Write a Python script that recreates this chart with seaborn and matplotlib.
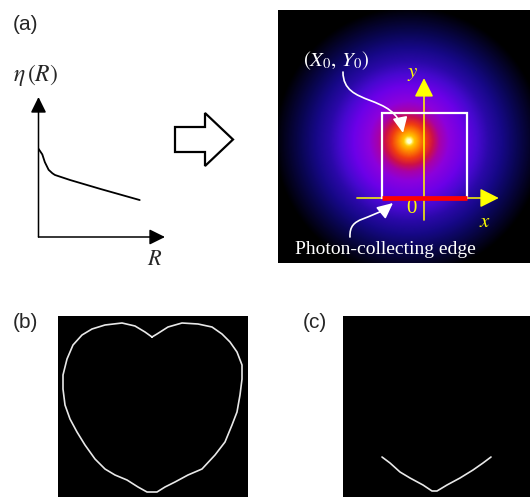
import numpy as np
import matplotlib
matplotlib.use("Agg")
import matplotlib.pyplot as plt
import seaborn as sns
from matplotlib.colors import LinearSegmentedColormap
from matplotlib.patches import FancyArrowPatch, FancyArrow, Rectangle
from matplotlib.path import Path

sns.set_style("white")
plt.rcParams["font.family"] = ["Liberation Sans", "DejaVu Sans"]
plt.rcParams["mathtext.fontset"] = "stix"

# collection efficiency versus distance from the edge (normalised sketch)
R_vals = [0.0, 0.03, 0.05, 0.08, 0.11, 0.13, 0.25, 0.49, 0.80]
eta_vals = [0.63, 0.59, 0.535, 0.48, 0.455, 0.443, 0.407, 0.343, 0.264]

# heart-shaped emitter outline (pixel grid of panel b, y pointing down)
heart_x = [94, 99, 110, 124, 140, 154, 164, 172, 179, 184, 184, 182, 179, 174,
           167, 157, 144, 130, 117, 107, 99, 89, 80, 69, 57, 47, 37, 27, 19,
           12, 7, 5, 5, 9, 15, 24, 34, 47, 64, 77, 87, 94]
heart_y = [21, 18, 11, 7, 8, 11, 18, 26, 36, 49, 63, 79, 96, 109,
           126, 139, 153, 159, 166, 171, 176, 176, 171, 164, 159, 153, 143, 129, 116,
           103, 89, 73, 59, 43, 29, 19, 13, 9, 7, 10, 16, 21]

# portion of the outline seen along the collecting edge (panel c)
edge_x = [39, 47, 57, 67, 80, 89, 94, 104, 117, 130, 140, 148]
edge_y = [141, 147, 156, 162, 169, 175, 175, 169, 162, 154, 147, 141]

# radial colour profile of the luminescence spot (radius in edge lengths)
spot_radius = [0.0, 0.025, 0.06, 0.12, 0.20, 0.28, 0.36, 0.47, 0.65, 0.80,
               0.94, 1.10, 1.27, 1.42, 1.58]
spot_colors = ["#ffffff", "#ffffa0", "#ffc800", "#ff8800", "#f03c10", "#cc1048",
               "#a800a8", "#8c00dc", "#6c00e8", "#4808d0", "#2a08a8", "#160886",
               "#0a0656", "#05032c", "#000000"]
spot_center = (-0.176, 0.671)

W, H = 530, 497
fig = plt.figure(figsize=(W / 100, H / 100), dpi=100)


def px_axes(x, y, w, h, **kw):
    return fig.add_axes([x / W, 1 - (y + h) / H, w / W, h / H], **kw)


# overlay in figure pixels for the block arrow
over = px_axes(0, 0, W, H)
over.set_xlim(0, W)
over.set_ylim(H, 0)
over.axis("off")
over.add_patch(FancyArrow(175, 139.5, 58, 0, width=25, head_width=53,
                          head_length=28, length_includes_head=True,
                          fc="white", ec="black", lw=1.6, joinstyle="miter"))

# ---- (a) left: eta(R) sketch
ax1 = px_axes(38.5, 97, 126.5, 140)
ax1.set_xlim(0, 1)
ax1.set_ylim(0, 1)
ax1.axis("off")
sns.lineplot(x=R_vals, y=eta_vals, ax=ax1, color="black", lw=1.3,
             sort=False, estimator=None)
ax1.annotate("", xy=(0, 1), xytext=(0, 0), xycoords="axes fraction",
             arrowprops=dict(arrowstyle="-|>,head_length=0.95,head_width=0.47",
                             mutation_scale=10, color="black", lw=1.1,
                             shrinkA=0, shrinkB=0))
ax1.annotate("", xy=(1, 0), xytext=(0, 0), xycoords="axes fraction",
             arrowprops=dict(arrowstyle="-|>,head_length=0.95,head_width=0.47",
                             mutation_scale=10, color="black", lw=1.1,
                             shrinkA=0, shrinkB=0))
ax1.text(-0.02, 1.16, r"$\eta\,(R)$", transform=ax1.transAxes, fontsize=17,
         ha="center", va="center")
ax1.text(0.92, -0.164, r"$R$", transform=ax1.transAxes, fontsize=16,
         ha="center", va="center")

# ---- (a) right: luminescence map with the collecting edge
ax2 = px_axes(278, 10, 252, 253)
x0, x1 = -146 / 85, 106 / 85
y0, y1 = -65 / 85, 188 / 85
xs = np.linspace(x0, x1, 500)
ys = np.linspace(y0, y1, 500)
gx, gy = np.meshgrid(xs, ys)
rr = np.hypot(gx - spot_center[0], gy - spot_center[1])
rmax = spot_radius[-1]
cmap = LinearSegmentedColormap.from_list(
    "spot", list(zip(np.array(spot_radius) / rmax, spot_colors)))
ax2.imshow(np.clip(rr / rmax, 0, 1), extent=(x0, x1, y0, y1), origin="lower",
           cmap=cmap, vmin=0, vmax=1, interpolation="bilinear", aspect="auto")
ax2.set_xlim(x0, x1)
ax2.set_ylim(y0, y1)
ax2.set_xticks([])
ax2.set_yticks([])
for s in ax2.spines.values():
    s.set_visible(False)

yellow = "#ffff00"
ax2.annotate("", xy=(0.88, 0), xytext=(-0.79, 0),
             arrowprops=dict(arrowstyle="-|>,head_length=1.15,head_width=0.58",
                             mutation_scale=10, color=yellow, lw=1.1,
                             shrinkA=0, shrinkB=0))
ax2.annotate("", xy=(0, 1.41), xytext=(0, -0.26),
             arrowprops=dict(arrowstyle="-|>,head_length=1.15,head_width=0.58",
                             mutation_scale=10, color=yellow, lw=1.1,
                             shrinkA=0, shrinkB=0))
ax2.add_patch(Rectangle((-0.5, 0), 1.0, 1.0, fill=False, ec="white", lw=1.6,
                        zorder=4))
ax2.plot([-0.5, 0.5], [0, 0], color="#ff0000", lw=3.4, solid_capstyle="butt",
         zorder=5)
ax2.plot([spot_center[0]], [spot_center[1]], "o", ms=3, color="#ffffd0",
         mec="none", zorder=5)

ax2.text(-0.13, 1.47, r"$y$", color=yellow, fontsize=15, ha="center", va="center")
ax2.text(0.72, -0.28, r"$x$", color=yellow, fontsize=15, ha="center", va="center")
ax2.text(-0.15, -0.12, "0", color=yellow, fontsize=15, family="Liberation Serif",
         ha="center", va="center")
ax2.text(-1.035, 1.61, r"$(X_{\mathit{0}},\,Y_{\mathit{0}})$", color="white",
         fontsize=15, ha="center", va="center")
ax2.text(-0.46, -0.61, "Photon-collecting edge", color="white", fontsize=14,
         family="Liberation Serif", ha="center", va="center")

arrow_style = "-|>,head_length=0.95,head_width=0.45"
p1 = Path([(-0.953, 1.482), (-0.953, 1.059), (-0.341, 1.247), (-0.247, 0.765)],
          [Path.MOVETO, Path.CURVE4, Path.CURVE4, Path.CURVE4])
ax2.add_patch(FancyArrowPatch(path=p1, arrowstyle=arrow_style, mutation_scale=10,
                              color="white", lw=1.2, zorder=6))
p2 = Path([(-0.871, -0.459), (-0.882, -0.2), (-0.635, -0.282), (-0.365, -0.059)],
          [Path.MOVETO, Path.CURVE4, Path.CURVE4, Path.CURVE4])
ax2.add_patch(FancyArrowPatch(path=p2, arrowstyle=arrow_style, mutation_scale=10,
                              color="white", lw=1.2, zorder=6))

# ---- (b) heart outline and (c) the part reaching the edge
line_col = "#e8e8e8"
axb = px_axes(58, 316, 190, 181)
axc = px_axes(343, 316, 187, 181)
sns.lineplot(x=heart_x, y=heart_y, ax=axb, color=line_col, lw=1.2,
             sort=False, estimator=None)
sns.lineplot(x=edge_x, y=edge_y, ax=axc, color=line_col, lw=1.2,
             sort=False, estimator=None)
for a, w in ((axb, 190), (axc, 187)):
    a.set_facecolor("black")
    a.set_xlim(0, w)
    a.set_ylim(181, 0)
    a.set_xticks([])
    a.set_yticks([])
    a.set_xlabel("")
    a.set_ylabel("")
    for s in a.spines.values():
        s.set_visible(False)

# panel labels
fig.text(13 / W, 1 - 25 / H, "(a)", fontsize=15, ha="left", va="center")
fig.text(13 / W, 1 - 322 / H, "(b)", fontsize=15, ha="left", va="center")
fig.text(303 / W, 1 - 322 / H, "(c)", fontsize=15, ha="left", va="center")

fig.savefig("out.png", dpi=100, facecolor="white")
